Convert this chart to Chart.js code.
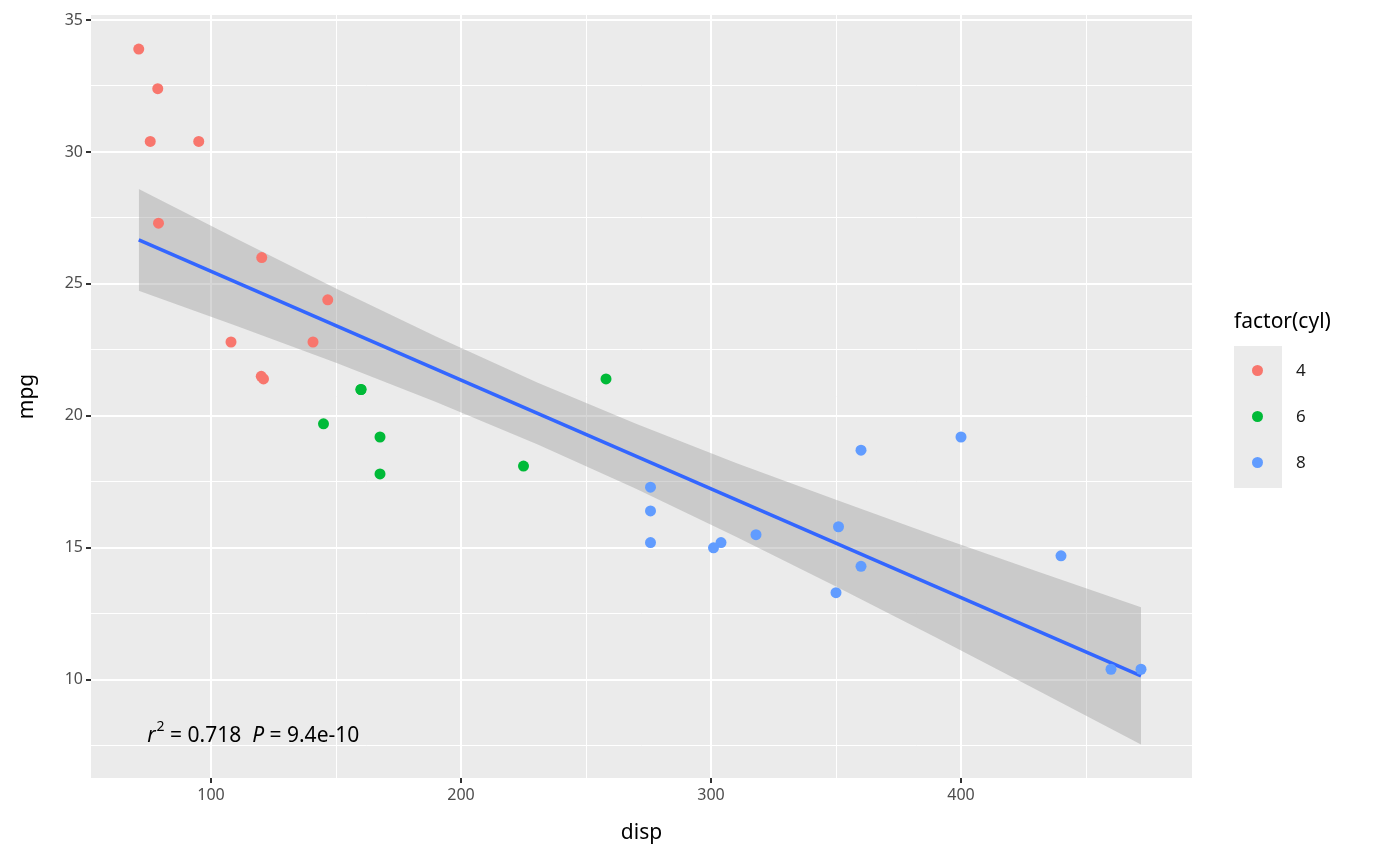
<!DOCTYPE html>
<html>
<head>
<meta charset="utf-8">
<script src="https://cdn.jsdelivr.net/npm/chart.js@4"></script>
<style>
  body { margin: 0; background: #fff; font-family: "Noto Sans", sans-serif; }
  #wrap { position: relative; width: 1400px; height: 866px; }
  #legend { position: absolute; left: 1234px; top: 306px; }
  #legend .title { font-size: 21px; color: #000; margin-bottom: 12px; }
  #legend .keys { background: #EBEBEB; width: 48px; padding: 2px 0; }
  #legend .row { height: 46px; position: relative; }
  #legend .dot { position: absolute; left: 18px; top: 17px; width: 11px; height: 11px; border-radius: 50%; }
  #legend .lab { position: absolute; left: 62px; top: 10px; font-size: 17px; color: #1a1a1a; }
</style>
</head>
<body>
<div id="wrap">
  <canvas id="myChart" width="1400" height="866"></canvas>
  <div id="legend">
    <div class="title">factor(cyl)</div>
    <div class="keys">
      <div class="row"><span class="dot" style="background:#F8766D"></span><span class="lab">4</span></div>
      <div class="row"><span class="dot" style="background:#00BA38"></span><span class="lab">6</span></div>
      <div class="row"><span class="dot" style="background:#619CFF"></span><span class="lab">8</span></div>
    </div>
  </div>
</div>
<script>
// mtcars: disp vs mpg, split by cylinders
var disp4 = [108, 146.7, 140.8, 78.7, 75.7, 71.1, 120.1, 79, 120.3, 95.1, 121];
var mpg4  = [22.8, 24.4, 22.8, 32.4, 30.4, 33.9, 21.5, 27.3, 26.0, 30.4, 21.4];
var disp6 = [160, 160, 258, 225, 167.6, 167.6, 145];
var mpg6  = [21.0, 21.0, 21.4, 18.1, 19.2, 17.8, 19.7];
var disp8 = [360, 360, 275.8, 275.8, 275.8, 472, 460, 440, 318, 304, 350, 400, 351, 301];
var mpg8  = [18.7, 14.3, 16.4, 17.3, 15.2, 10.4, 10.4, 14.7, 15.5, 15.2, 13.3, 19.2, 15.8, 15.0];

// fitted line and 95% band
var fitX   = [71.1, 472];
var fitY   = [26.67, 10.15];
var bandX  = [71.1, 110, 150, 190, 230.7, 270, 310, 350, 390, 430, 472];
var bandLo = [24.74, 23.42, 22.01, 20.53, 18.92, 17.24, 15.42, 13.54, 11.60, 9.63, 7.55];
var bandHi = [28.60, 26.72, 24.83, 23.01, 21.26, 19.70, 18.22, 16.82, 15.45, 14.12, 12.75];

function pts(xs, ys) { return xs.map(function (x, i) { return { x: x, y: ys[i] }; }); }

var annot = {
  id: 'annot',
  afterDatasetsDraw: function (chart) {
    var c = chart.ctx, xs = chart.scales.x, ys = chart.scales.y;
    var x = xs.getPixelForValue(74.5), y = ys.getPixelForValue(7.65);
    c.save();
    c.fillStyle = '#000';
    c.textBaseline = 'alphabetic';
    c.font = 'italic 21px "Noto Sans"';
    c.fillText('r', x, y);
    x += c.measureText('r').width + 1;
    c.font = '14px "Noto Sans"';
    c.fillText('2', x, y - 11);
    x += c.measureText('2').width;
    c.font = '21px "Noto Sans"';
    c.fillText(' = 0.718  ', x, y);
    x += c.measureText(' = 0.718  ').width;
    c.font = 'italic 21px "Noto Sans"';
    c.fillText('P', x, y);
    x += c.measureText('P').width;
    c.font = '21px "Noto Sans"';
    c.fillText(' = 9.4e-10', x, y);
    c.restore();
  }
};

var bg = {
  id: 'bg',
  beforeDraw: function (chart) {
    var a = chart.chartArea, c = chart.ctx;
    c.save();
    c.fillStyle = '#EBEBEB';
    c.fillRect(a.left, a.top, a.right - a.left, a.bottom - a.top);
    c.restore();
  }
};

new Chart(document.getElementById('myChart'), {
  type: 'scatter',
  data: {
    datasets: [
      { data: pts(bandX, bandLo), order: 4, showLine: true, pointRadius: 0, borderWidth: 0, borderColor: 'transparent', fill: false },
      { data: pts(bandX, bandHi), order: 3, showLine: true, pointRadius: 0, borderWidth: 0, borderColor: 'transparent',
        fill: '-1', backgroundColor: 'rgba(153,153,153,0.4)' },
      { data: pts(fitX, fitY), order: 2, showLine: true, pointRadius: 0, borderWidth: 3.5, borderColor: '#3366FF' },
      { data: pts(disp4, mpg4), order: 1, pointRadius: 5.5, backgroundColor: '#F8766D', borderWidth: 0 },
      { data: pts(disp6, mpg6), order: 1, pointRadius: 5.5, backgroundColor: '#00BA38', borderWidth: 0 },
      { data: pts(disp8, mpg8), order: 1, pointRadius: 5.5, backgroundColor: '#619CFF', borderWidth: 0 }
    ]
  },
  options: {
    responsive: false,
    animation: false,
    layout: { padding: { top: 15, right: 208, left: 14, bottom: 20 } },
    plugins: { legend: { display: false }, tooltip: { enabled: false } },
    scales: {
      x: {
        type: 'linear', min: 52, max: 492.4,
        afterFit: function (s) { s.height = 68; },
        afterBuildTicks: function (s) {
          s.ticks = [100, 150, 200, 250, 300, 350, 400, 450].map(function (v) { return { value: v }; });
        },
        border: { display: false },
        grid: {
          color: '#FFFFFF',
          lineWidth: function (ctx) { return ctx.tick && ctx.tick.value % 100 === 0 ? 2 : 1; },
          tickColor: function (ctx) { return ctx.tick && ctx.tick.value % 100 === 0 ? '#333333' : 'rgba(0,0,0,0)'; },
          tickLength: 5
        },
        ticks: {
          autoSkip: false, maxRotation: 0, color: '#4D4D4D', font: { size: 16, family: 'Noto Sans' },
          callback: function (v) { return v % 100 === 0 ? v : ''; }
        },
        title: { display: true, text: 'disp', color: '#000', font: { size: 21, family: 'Noto Sans' }, padding: 0 }
      },
      y: {
        type: 'linear', min: 6.28, max: 35.19,
        afterFit: function (s) { s.width = 77; },
        afterBuildTicks: function (s) {
          s.ticks = [7.5, 10, 12.5, 15, 17.5, 20, 22.5, 25, 27.5, 30, 32.5, 35].map(function (v) { return { value: v }; });
        },
        border: { display: false },
        grid: {
          color: '#FFFFFF',
          lineWidth: function (ctx) { return ctx.tick && ctx.tick.value % 5 === 0 ? 2 : 1; },
          tickColor: function (ctx) { return ctx.tick && ctx.tick.value % 5 === 0 ? '#333333' : 'rgba(0,0,0,0)'; },
          tickLength: 5
        },
        ticks: {
          autoSkip: false, color: '#4D4D4D', font: { size: 16, family: 'Noto Sans' },
          callback: function (v) { return v % 5 === 0 ? v : ''; }
        },
        title: { display: true, text: 'mpg', color: '#000', font: { size: 21, family: 'Noto Sans' }, padding: 0 }
      }
    }
  },
  plugins: [bg, annot]
});
</script>
</body>
</html>
